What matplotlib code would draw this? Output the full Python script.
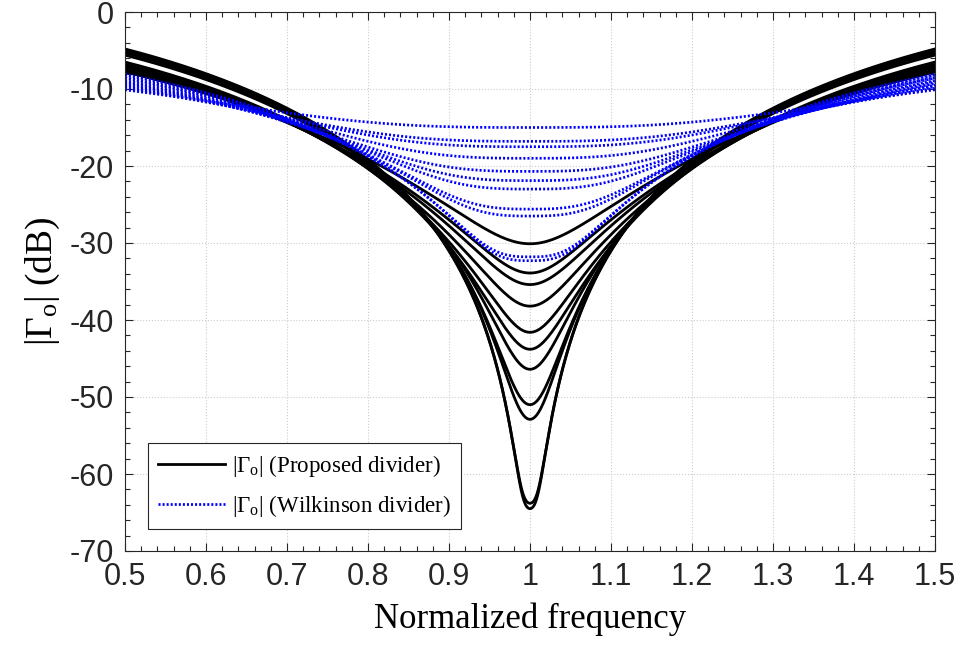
import numpy as np
import matplotlib
matplotlib.use('Agg')
import matplotlib.pyplot as plt
from matplotlib.ticker import MultipleLocator, FormatStrFormatter
from matplotlib.lines import Line2D

plt.rcParams['axes.unicode_minus'] = False
plt.rcParams['mathtext.fontset'] = 'custom'
plt.rcParams['mathtext.rm'] = 'Liberation Serif'
plt.rcParams['mathtext.it'] = 'Liberation Serif:italic'

# (dB): level at f = 1, level at f = 0.5 / 1.5,
# and for the proposed divider the size of its first-order residual term
prop_min = [-30.1, -33.9, -35.4, -38.2, -41.6, -43.8, -46.4, -51.0, -52.9, -63.8, -64.5]
prop_edge = [-7.8, -7.5, -7.2, -7.0, -6.8, -6.5, -5.6, -5.3, -5.1, -4.9, -4.8]
prop_first = [-14.6, -16.0, -17.0, -18.5, -20.0, -21.5, -23.0, -26.0, -27.0, -36.0, -36.0]

wilk_min = [-15.0, -16.8, -17.5, -19.0, -20.7, -21.9, -23.0, -25.6, -26.5, -31.8, -32.3]
wilk_edge = [-10.1, -9.9, -9.7, -9.5, -9.3, -9.1, -8.9, -8.6, -8.5, -8.2, -8.1]
wilk_order = [1.5, 1.5, 1.5, 1.5, 1.5, 1.5, 1.5, 1.5, 1.5, 1.5, 1.5]

x_ticks = [0.5, 0.6, 0.7, 0.8, 0.9, 1.0, 1.1, 1.2, 1.3, 1.4, 1.5]
y_ticks = [-70, -60, -50, -40, -30, -20, -10, 0]

f = np.linspace(0.5, 1.5, 1201)
u = np.abs(np.cos(np.pi * f / 2)) / np.cos(np.pi / 4)


def lin(db):
    return 10 ** (db / 20)


def proposed_db(fmin, fedge, first):
    g0, a = lin(fmin), lin(first)
    b = np.sqrt(max(lin(fedge) ** 2 - g0 ** 2 - a ** 2, 1e-12))
    return 10 * np.log10(g0 ** 2 + (a * u) ** 2 + (b * u ** 2) ** 2)


def wilkinson_db(fmin, fedge, order):
    g0 = lin(fmin)
    k = np.sqrt(max(lin(fedge) ** 2 - g0 ** 2, 1e-12))
    return 10 * np.log10(g0 ** 2 + (k * u ** order) ** 2)


fig = plt.figure(figsize=(9.62, 6.47), dpi=100)
ax = fig.add_axes([125 / 962, 1 - 551 / 647, 810 / 962, 539 / 647])

for a, b, c in zip(prop_min, prop_edge, prop_first):
    ax.plot(f, proposed_db(a, b, c), color='black', lw=2.0)
for a, b, c in zip(wilk_min, wilk_edge, wilk_order):
    ax.plot(f, wilkinson_db(a, b, c), color='blue', lw=1.95,
            linestyle=(0, (0.75, 0.75)), dash_capstyle='butt')

ax.set_xlim(0.5, 1.5)
ax.set_ylim(-70, 0)
ax.set_xticks(x_ticks)
ax.set_yticks(y_ticks)
ax.xaxis.set_minor_locator(MultipleLocator(0.02))
ax.yaxis.set_minor_locator(MultipleLocator(2))
ax.xaxis.set_major_formatter(FormatStrFormatter('%g'))
ax.yaxis.set_major_formatter(FormatStrFormatter('%g'))
ax.tick_params(which='both', direction='in', top=True, right=True,
               colors='#262626', labelcolor='#262626')
ax.tick_params(which='major', length=6, width=0.8, labelsize=22, pad=8)
ax.tick_params(which='minor', length=3.5, width=0.8)
for lab in ax.get_xticklabels() + ax.get_yticklabels():
    lab.set_family('Liberation Sans')
for sp in ax.spines.values():
    sp.set_color('#262626')
    sp.set_linewidth(0.8)
ax.grid(True, which='major', color='#cccccc', linestyle=':', linewidth=0.8)

ax.set_xlabel('Normalized frequency', family='Liberation Serif', fontsize=25)
ax.set_ylabel(r'$|\Gamma_{\mathrm{o}}|$ (dB)', family='Liberation Serif', fontsize=27)
ax.xaxis.set_label_coords(0.5, -0.095)
ax.yaxis.set_label_coords(-0.078, 0.5)

handles = [Line2D([], [], color='black', lw=2.0),
           Line2D([], [], color='blue', lw=1.95, linestyle=(0, (0.75, 0.75)))]
labels = [r'$|\Gamma_{\mathrm{o}}|$ (Proposed divider)',
          r'$|\Gamma_{\mathrm{o}}|$ (Wilkinson divider)']
leg = ax.legend(handles, labels, loc='lower left',
                bbox_to_anchor=(23 / 810, 22 / 539), borderaxespad=0,
                prop={'family': 'Liberation Serif', 'size': 16.5},
                handlelength=2.9, handletextpad=0.3, labelspacing=0.6,
                borderpad=0.45, fancybox=False, framealpha=1)
leg.get_frame().set_edgecolor('#262626')
leg.get_frame().set_linewidth(0.8)

fig.savefig('out.png', dpi=100)
